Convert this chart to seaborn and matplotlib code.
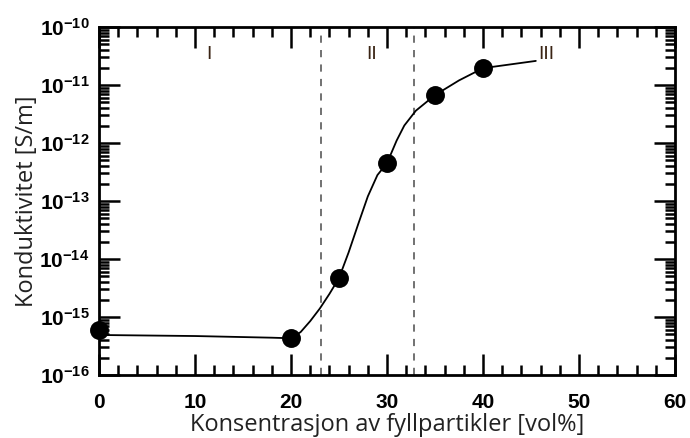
import numpy as np
import pandas as pd
import matplotlib
matplotlib.use("Agg")
import matplotlib.pyplot as plt
import matplotlib.ticker as mticker
import seaborn as sns

# Measured conductivity at each filler concentration
conc_points = [0, 20, 25, 30, 35, 40]
cond_points = [6.0e-16, 4.4e-16, 4.7e-15, 4.5e-13, 6.7e-12, 1.95e-11]

# Guide curve through the measurements
curve_x = [0, 10, 18, 20, 21, 22, 23, 24, 25, 26, 27, 28, 29, 30, 31, 31.8, 33, 35, 37.5, 40, 45.5]
curve_y = [4.9e-16, 4.7e-16, 4.4e-16, 4.3e-16, 5.5e-16, 8.5e-16, 1.4e-15, 2.5e-15, 4.7e-15,
           1.3e-14, 4.0e-14, 1.2e-13, 2.8e-13, 4.5e-13, 1.1e-12, 2.0e-12, 3.6e-12, 6.7e-12,
           1.2e-11, 1.95e-11, 2.6e-11]

# Percolation region boundaries and labels
boundaries = [23.1, 32.8]
region_labels = ["I", "II", "III"]
region_x = [11.4, 28.4, 46.6]

x_ticks = [0, 10, 20, 30, 40, 50, 60]

sns.set_style("ticks")
plt.rcParams["font.family"] = ["Liberation Sans", "DejaVu Sans"]
plt.rcParams["mathtext.fontset"] = "custom"
plt.rcParams["mathtext.rm"] = "Liberation Sans:bold"
plt.rcParams["mathtext.default"] = "regular"

fig = plt.figure(figsize=(6.9, 4.38), dpi=100)
ax = fig.add_axes([0.1435, 0.1438, 0.8348, 0.7946])

curve = pd.DataFrame({"x": curve_x, "y": curve_y})
pts = pd.DataFrame({"x": conc_points, "y": cond_points})

ax.set_yscale("log")
for b in boundaries:
    ax.axvline(b, color="#666666", linestyle=(0, (4, 4)), linewidth=1.3, zorder=1)

sns.lineplot(data=curve, x="x", y="y", ax=ax, color="black", linewidth=1.3,
             zorder=2, estimator=None, sort=False)
sns.scatterplot(data=pts, x="x", y="y", ax=ax, color="black", s=185,
                edgecolor="black", linewidth=0, zorder=3, clip_on=False)

for lab, xx in zip(region_labels, region_x):
    ax.text(xx, 10 ** -10.47, lab, ha="center", va="center", fontsize=14,
            color="#3a2414")

ax.set_xlim(0, 60)
ax.set_ylim(1e-16, 1e-10)
ax.set_xticks(x_ticks)
ax.xaxis.set_minor_locator(mticker.MultipleLocator(2))
ax.yaxis.set_major_locator(mticker.LogLocator(base=10, numticks=10))
ax.yaxis.set_minor_locator(mticker.LogLocator(base=10, subs=np.arange(2, 10), numticks=100))
ax.yaxis.set_minor_formatter(mticker.NullFormatter())

ax.tick_params(which="both", direction="in", top=True, right=True, width=1.8,
               colors="black", labelsize=15)
ax.tick_params(which="major", length=15)
ax.tick_params(which="minor", length=7)
ax.tick_params(axis="x", which="major", pad=13)
ax.tick_params(axis="y", which="major", pad=7)
for lbl in ax.get_xticklabels() + ax.get_yticklabels():
    lbl.set_fontweight("bold")
for s in ax.spines.values():
    s.set_linewidth(2)
    s.set_color("black")

ax.set_xlabel("Konsentrasjon av fyllpartikler [vol%]", fontsize=17,
              family=["Open Sans", "DejaVu Sans"], color="#222222", labelpad=1)
ax.set_ylabel("Konduktivitet [S/m]", fontsize=17,
              family=["Open Sans", "DejaVu Sans"], color="#222222", labelpad=0)

fig.savefig("out.png", dpi=100)
